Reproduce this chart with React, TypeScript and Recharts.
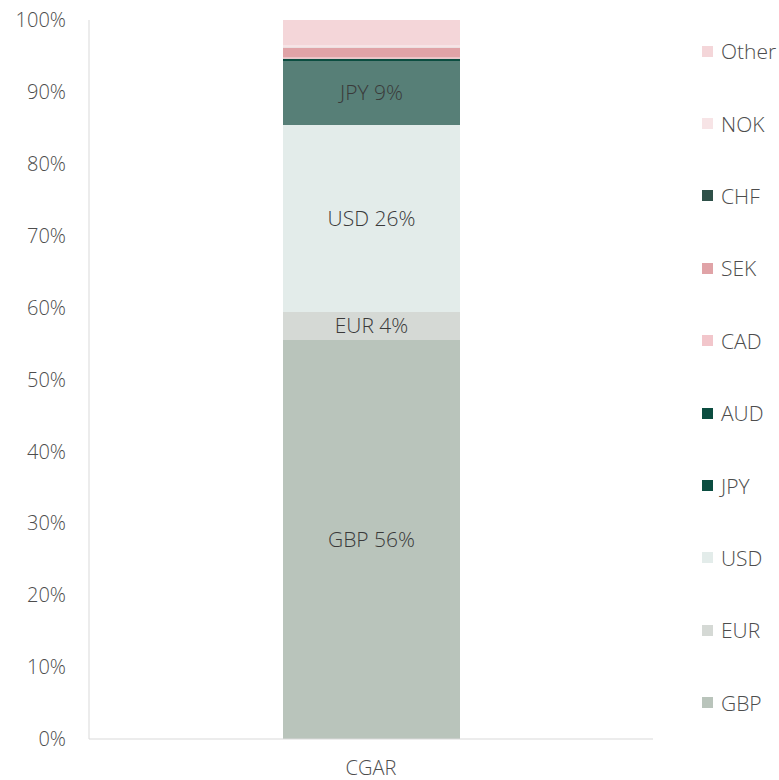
import React from 'react';
import { BarChart, Bar, XAxis, YAxis, LabelList } from 'recharts';

document.body.style.margin = '0';

// stack order, bottom to top
const currencies = ['GBP', 'EUR', 'USD', 'JPY', 'AUD', 'CAD', 'SEK', 'CHF', 'NOK', 'Other'];
const shares = [55.5, 3.9, 26.0, 8.9, 0.3, 0.2, 1.3, 0.05, 0.3, 3.55];
const barColors = ['#b9c4bb', '#d5d9d5', '#e3ecea', '#577f77', '#0b4d40', '#f2c6cb', '#e0a3a7', '#2e5048', '#f7e4e6', '#f4d6d9'];
const legendColors = ['#b9c4bb', '#d5d9d5', '#e3ecea', '#0b4d40', '#0b4d40', '#f2c6cb', '#e0a3a7', '#2e5048', '#f7e4e6', '#f4d6d9'];
const legendOrder = ['Other', 'NOK', 'CHF', 'SEK', 'CAD', 'AUD', 'JPY', 'USD', 'EUR', 'GBP'];
const labelled = ['GBP', 'EUR', 'USD', 'JPY'];
const yTicks = [0, 10, 20, 30, 40, 50, 60, 70, 80, 90, 100];
const category = 'CGAR';

const font = "'Open Sans', 'Noto Sans', sans-serif";

const row: Record<string, string | number> = { name: category };
currencies.forEach((c, i) => {
  row[c] = shares[i];
});
const chartData = [row];

const App: React.FC = () => {
  return (
    <div style={{ position: 'relative', width: 779, height: 780, fontFamily: font }}>
      <BarChart
        width={779}
        height={780}
        data={chartData}
        margin={{ top: 20, right: 126, bottom: 0, left: 0 }}
        barSize={177}
      >
        <XAxis
          dataKey="name"
          height={41}
          tickLine={false}
          tickSize={0}
          tickMargin={22}
          axisLine={{ stroke: '#d9d9d9' }}
          tick={{ fill: '#4d4d4d', fontSize: 20, fontFamily: font, fontWeight: 300 }}
        />
        <YAxis
          width={89}
          domain={[0, 100]}
          ticks={yTicks}
          tickFormatter={(v: number) => `${v}%`}
          tickLine={false}
          tickSize={0}
          tickMargin={23}
          axisLine={{ stroke: '#d9d9d9' }}
          tick={{ fill: '#4d4d4d', fontSize: 20, fontFamily: font, fontWeight: 300 }}
        />
        {currencies.map((c, i) => (
          <Bar key={c} dataKey={c} stackId="a" fill={barColors[i]} isAnimationActive={false}>
            {labelled.includes(c) && (
              <LabelList
                dataKey={c}
                position="center"
                formatter={(v: number) => `${c} ${Math.round(v)}%`}
                fill="#3a3a3a"
                fontSize={21}
                fontFamily={font}
                fontWeight={300}
              />
            )}
          </Bar>
        ))}
      </BarChart>
      <div style={{ position: 'absolute', left: 702, top: 15 }}>
        {legendOrder.map((c) => {
          const idx = currencies.indexOf(c);
          return (
            <div
              key={c}
              style={{ height: 72.4, display: 'flex', alignItems: 'center', color: '#4d4d4d', fontSize: 21, fontWeight: 300 }}
            >
              <span style={{ display: 'inline-block', width: 11, height: 11, background: legendColors[idx], marginRight: 8 }} />
              {c}
            </div>
          );
        })}
      </div>
    </div>
  );
};

export default App;
